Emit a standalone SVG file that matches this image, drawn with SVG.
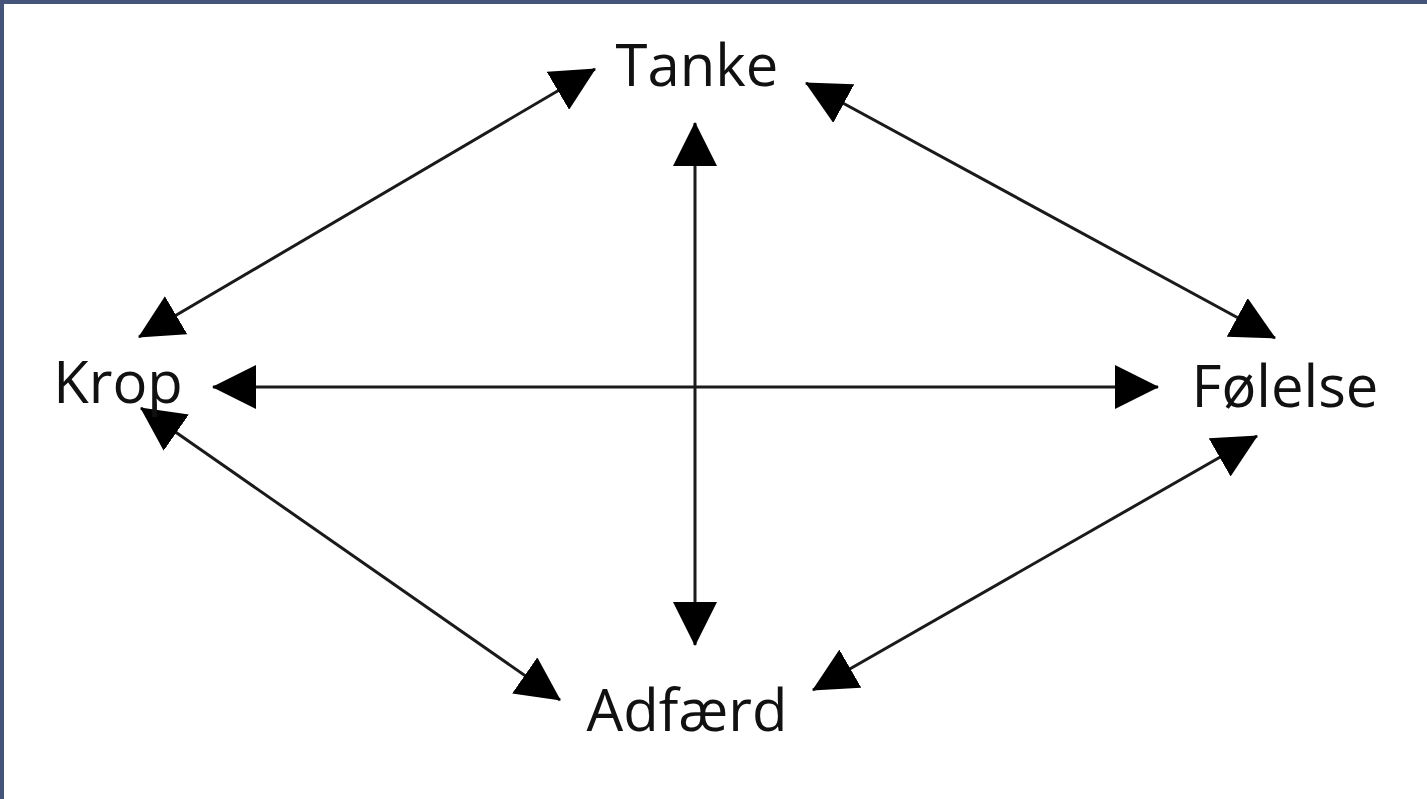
<svg xmlns="http://www.w3.org/2000/svg" width="1427" height="799" viewBox="0 0 1427 799">
  <style>
    .lbl { font-family: "Open Sans", "Noto Sans", "Liberation Sans", sans-serif; font-size: 58px; fill: #111; text-anchor: middle; }
    .con { stroke: #1a1a1a; stroke-width: 3; fill: none; marker-start: url(#ah); marker-end: url(#ah); }
  </style>
  <defs>
    <marker id="ah" markerUnits="userSpaceOnUse" markerWidth="44" markerHeight="44" viewBox="0 0 44 44" refX="43" refY="22" orient="auto-start-reverse">
      <path d="M0,0 L44,22 L0,44 z" fill="#000"/>
    </marker>
  </defs>
  <rect x="0" y="0" width="1427" height="799" fill="#ffffff"/>
  <rect x="0" y="0" width="1427" height="4" fill="#45557a"/>
  <rect x="0" y="0" width="4" height="799" fill="#45557a"/>

  <g id="connectors">
    <line class="con" x1="139" y1="337" x2="595" y2="69"/>
    <line class="con" x1="806" y1="83" x2="1275" y2="338"/>
    <line class="con" x1="141" y1="408" x2="560" y2="700"/>
    <line class="con" x1="813" y1="690" x2="1257" y2="436"/>
    <line class="con" x1="695" y1="123" x2="695" y2="645"/>
    <line class="con" x1="213" y1="387" x2="1158" y2="387"/>
  </g>

  <g id="node-tanke"><text class="lbl" x="697" y="86">Tanke</text></g>
  <g id="node-krop"><text class="lbl" x="118" y="403">Krop</text></g>
  <g id="node-folelse"><text class="lbl" x="1285" y="407">Følelse</text></g>
  <g id="node-adfaerd"><text class="lbl" x="687" y="731">Adfærd</text></g>
</svg>
